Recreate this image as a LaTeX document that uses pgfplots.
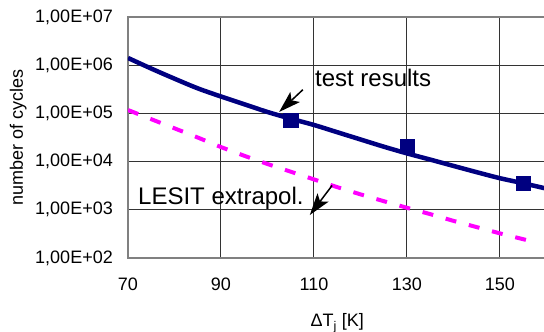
\documentclass[border=0pt]{standalone}
\usepackage{pgfplots}
\pgfplotsset{compat=1.18}
\usepackage{fontspec}
\setmainfont{Liberation Sans}
\usetikzlibrary{calc}
\definecolor{navy}{HTML}{000080}
\definecolor{mag}{HTML}{FF00FF}
\begin{document}
\begin{tikzpicture}
\begin{axis}[
  name=ax,
  at={(0,0)}, anchor=south west,
  scale only axis, width=418.5bp, height=241bp,
  ymode=log, xmin=70, xmax=160, ymin=1e2, ymax=1e7,
  xtick={70,90,110,130,150}, xticklabels={70,90,110,130,150},
  ytick={1e2,1e3,1e4,1e5,1e6,1e7},
  yticklabels={{1,00E+02},{1,00E+03},{1,00E+04},{1,00E+05},{1,00E+06},{1,00E+07}},
  yminorticks=false,
  major tick length=0pt,
  grid=major, major grid style={black!80, line width=1bp},
  axis line style={gray, line width=2.5bp},
  ticklabel style={font=\fontsize{18bp}{20bp}\selectfont, inner sep=0pt},
  yticklabel style={anchor=east, xshift=-15bp},
  xticklabel style={anchor=north, yshift=-20bp},
  xlabel={ΔT\textsubscript{j} [K]},
  ylabel={number of cycles},
  label style={font=\fontsize{18bp}{20bp}\selectfont, inner sep=0pt},
  xlabel style={at={(axis description cs:0.5,-0.2863)}, anchor=base},
  ylabel style={at={(axis description cs:-0.2509,0.5)}, anchor=base},
]
\addplot[navy, line width=4.5bp, smooth] coordinates {
(70,1.413e6) (75,8.51e5) (80,5.25e5) (85,3.31e5) (90,2.24e5) (95,1.55e5)
(100,1.07e5) (105,7.76e4) (110,5.75e4) (115,4.07e4) (120,2.88e4) (125,2.04e4)
(130,1.48e4) (135,1.10e4) (140,8.13e3) (145,6.03e3) (150,4.52e3) (155,3.55e3) (160,2.75e3)};
\addplot[mag, line width=4bp, dash pattern=on 11bp off 13bp] coordinates {
(70,1.175e5) (75,7.59e4) (80,4.90e4) (85,3.16e4) (90,2.00e4) (95,1.32e4)
(100,8.91e3) (105,6.17e3) (110,4.27e3) (115,2.95e3) (120,2.09e3) (125,1.51e3)
(130,1.10e3) (135,813) (140,589) (145,437) (150,324) (155,245) (157,219)};
\addplot[only marks, mark=square*, mark size=7.2bp, navy] coordinates {
(105,7.3e4) (130,2.1e4) (155,3.55e3)};
\node[anchor=base west, inner sep=0pt, font=\fontsize{24bp}{28bp}\selectfont] at (axis cs:110.2,3.53e5) {test results};
\node[anchor=base west, inner sep=0pt, font=\fontsize{24bp}{28bp}\selectfont] at (axis cs:72.15,1318) {LESIT extrapol.};
\coordinate (a1) at (axis cs:107.6,3.1e5);
\coordinate (a2) at (axis cs:102.5,1.07e5);
\coordinate (b1) at (axis cs:113.9,3200);
\coordinate (b2) at (axis cs:109.1,780);
\end{axis}
\fill[black] (a2) -- ($(a2)!22bp!(a1)!7bp!90:(a1)$) -- ($(a2)!17bp!(a1)$) -- ($(a2)!22bp!(a1)!7bp!-90:(a1)$) -- cycle;
\draw[line width=1.5bp] (a1) -- ($(a2)!17bp!(a1)$);
\fill[black] (b2) -- ($(b2)!22bp!(b1)!7bp!90:(b1)$) -- ($(b2)!17bp!(b1)$) -- ($(b2)!22bp!(b1)!7bp!-90:(b1)$) -- cycle;
\draw[line width=1.5bp] (b1) -- ($(b2)!17bp!(b1)$);
\pgfresetboundingbox
\path ([shift={(-128bp,-74bp)}]ax.south west) rectangle ([shift={(416bp,17bp)}]ax.north west);
\end{tikzpicture}
\end{document}
